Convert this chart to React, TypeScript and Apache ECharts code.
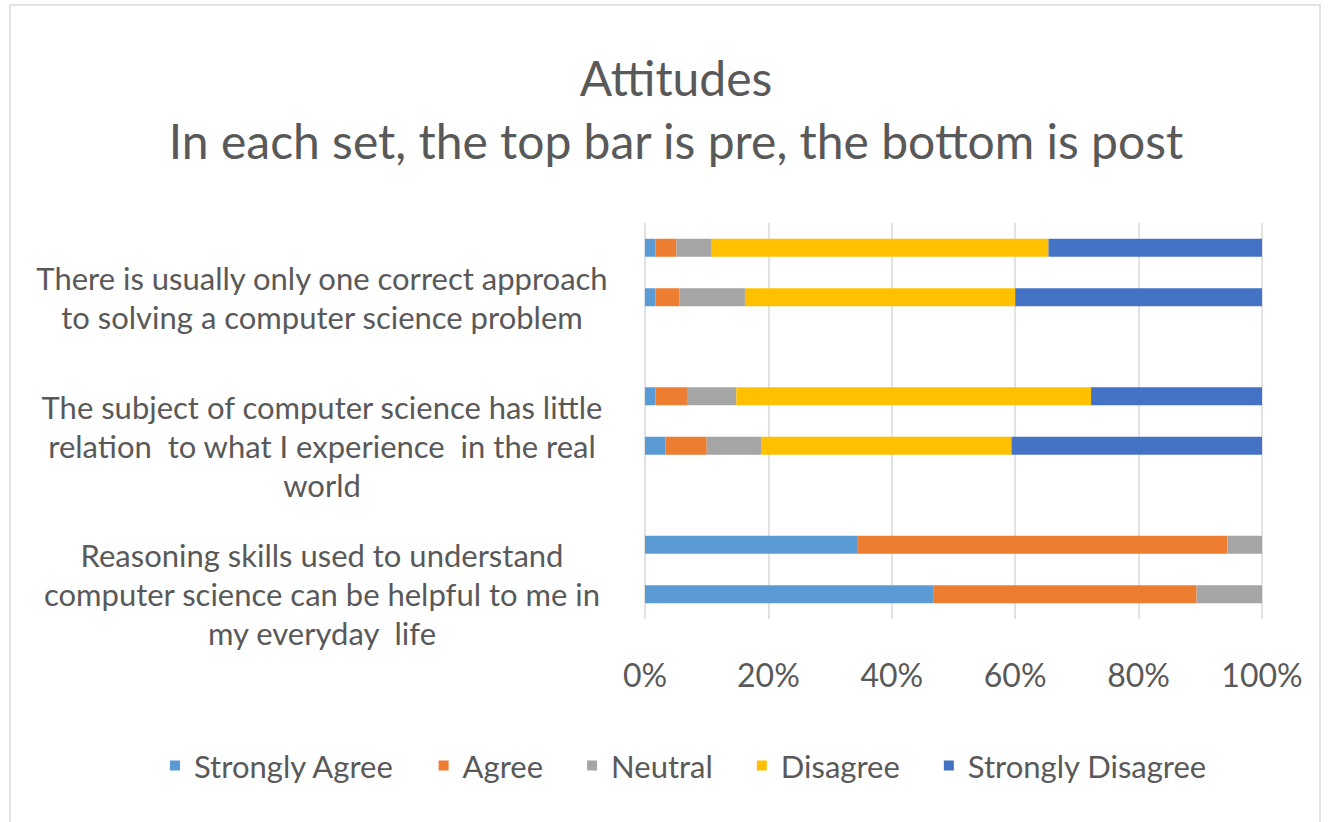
import React, { useEffect, useRef } from "react";
import * as echarts from "echarts";

const statements = [
  "There is usually only one correct approach\nto solving a computer science problem",
  "The subject of computer science has little\nrelation  to what I experience  in the real\nworld",
  "Reasoning skills used to understand\ncomputer science can be helpful to me in\nmy everyday  life",
];

const responses = ["Strongly Agree", "Agree", "Neutral", "Disagree", "Strongly Disagree"];
const colors = ["#5B9BD5", "#ED7D31", "#A5A5A5", "#FFC000", "#4472C4"];

// percentages per statement, in response order
const preValues = [
  [1.7, 3.4, 5.6, 54.7, 34.6],
  [1.7, 5.1, 8.0, 57.5, 27.7],
  [34.5, 59.9, 5.6, 0, 0],
];
const postValues = [
  [1.7, 3.9, 10.6, 43.8, 40.0],
  [3.3, 6.7, 8.8, 40.6, 40.6],
  [46.7, 42.7, 10.6, 0, 0],
];

const xTicks = [0, 20, 40, 60, 80, 100];

const FONT = "Lato";
const TEXT = "#595959";

export default function App() {
  const ref = useRef<HTMLDivElement>(null);

  useEffect(() => {
    if (!ref.current) return;
    const chart = echarts.init(ref.current, null, { renderer: "svg" });

    // slots: pre, post, gap for each statement (no trailing gap)
    const slotLabels: string[] = [];
    statements.forEach((s, i) => {
      slotLabels.push("pre-" + i, "post-" + i);
      if (i < statements.length - 1) slotLabels.push("gap-" + i);
    });
    const labelFor: Record<string, string> = {};
    statements.forEach((s, i) => (labelFor["post-" + i] = s));

    const series = responses.map((name, r) => {
      const data: (number | string)[] = [];
      statements.forEach((_, i) => {
        data.push(preValues[i][r], postValues[i][r]);
        if (i < statements.length - 1) data.push("-");
      });
      return {
        name,
        type: "bar",
        stack: "total",
        barWidth: 18,
        itemStyle: { color: colors[r] },
        data,
      };
    });

    chart.setOption({
      animation: false,
      backgroundColor: "#ffffff",
      color: colors,
      title: {
        text: "Attitudes\nIn each set, the top bar is pre, the bottom is post",
        left: 676,
        textAlign: "center",
        top: 46,
        padding: 0,
        textStyle: {
          fontFamily: FONT,
          fontSize: 48,
          fontWeight: "normal",
          color: TEXT,
          lineHeight: 63,
        },
      },
      legend: {
        data: responses,
        left: 170,
        top: 750,
        padding: 0,
        itemGap: 44,
        itemWidth: 10,
        itemHeight: 10,
        icon: "rect",
        textStyle: {
          fontFamily: FONT,
          fontSize: 31,
          color: TEXT,
          padding: [0, 0, 0, 9],
        },
      },
      grid: { left: 645, right: 74, top: 223, bottom: 203, containLabel: false },
      xAxis: {
        type: "value",
        min: 0,
        max: 100,
        interval: 20,
        axisLine: { show: false },
        axisTick: { show: false },
        splitLine: { show: true, lineStyle: { color: "#d9d9d9", width: 1.5 } },
        axisLabel: {
          formatter: (v: number) => (xTicks.includes(v) ? v + "%" : ""),
          fontFamily: FONT,
          fontSize: 32,
          color: TEXT,
          margin: 39,
        },
      },
      yAxis: {
        type: "category",
        inverse: true,
        data: slotLabels,
        axisLine: { show: false },
        axisTick: { show: false },
        splitLine: { show: false },
        axisLabel: {
          interval: 0,
          align: "center",
          margin: 323,
          fontFamily: FONT,
          fontSize: 31,
          lineHeight: 39,
          color: TEXT,
          padding: [12, 0, 0, 0],
          formatter: (v: string) => labelFor[v] || "",
        },
      },
      graphic: [
        {
          type: "rect",
          shape: { x: 10, y: 5, width: 1310, height: 830 },
          style: { fill: "none", stroke: "#e3e3e3", lineWidth: 2 },
          silent: true,
        },
      ],
      series,
    });

    return () => chart.dispose();
  }, []);

  return (
    <div
      ref={ref}
      style={{ position: "fixed", left: 0, top: 0, width: 1336, height: 822 }}
    />
  );
}
